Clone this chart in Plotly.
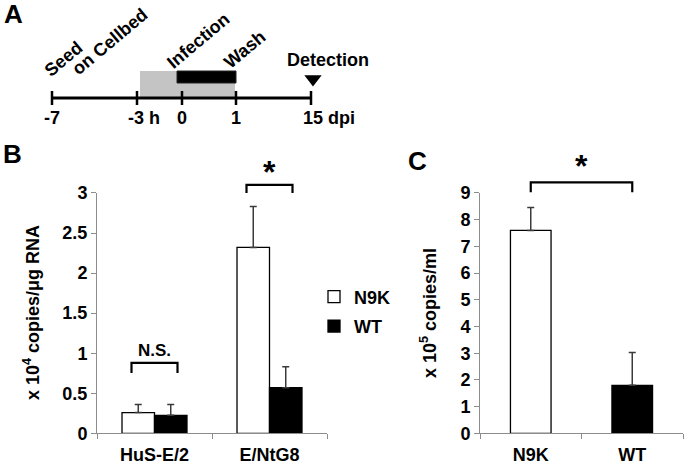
import plotly.graph_objects as go

# ---- panel A: experiment timeline (schematic positions, not to scale)
tl_labels = ["-7", "-3 h", "0", "1", "15 dpi"]
tl_pos = [0.0, 1.7, 2.6, 3.68, 5.18]
pre_span = [1.76, 3.66]   # grey box: cells on Cellbed before infection
inf_span = [2.5, 3.68]    # black box: infection until wash
detect_pos = 5.22

# ---- panel B: intracellular RNA (x 10^4 copies/ug RNA)
cell_lines = ["HuS-E/2", "E/NtG8"]
b_n9k = [0.26, 2.32]
b_n9k_err = [0.10, 0.51]
b_wt = [0.225, 0.57]
b_wt_err = [0.135, 0.26]
b_ticks = [0, 0.5, 1, 1.5, 2, 2.5, 3]

# ---- panel C: released RNA (x 10^5 copies/ml)
c_cats = ["N9K", "WT"]
c_vals = [7.6, 1.8]
c_err = [0.86, 1.23]
c_ticks = [0, 1, 2, 3, 4, 5, 6, 7, 8, 9]

W, H = 685, 465
FONT = "Liberation Sans, Arial, Helvetica, sans-serif"
AX_GREY = "#8c8c8c"
ERR_GREY = "#3a3a3a"
BASE = dict(family=FONT, size=18, color="black")


def px(x):
    return x / W


def py(y):
    return 1 - y / H


def b(txt):
    return f"<b>{txt}</b>"


def bracket(xref, yref, x0, x1, top, leg):
    return dict(
        type="path", xref=xref, yref=yref,
        path=f"M{x0},{top - leg} L{x0},{top} L{x1},{top} L{x1},{top - leg}",
        line=dict(color="black", width=2.2),
    )


fig = go.Figure()

# timeline
fig.add_trace(go.Scatter(
    x=[tl_pos[0], tl_pos[-1]], y=[0, 0], mode="lines",
    line=dict(color="black", width=2.8), xaxis="x3", yaxis="y3", showlegend=False,
))
fig.add_trace(go.Scatter(
    x=tl_pos, y=[0] * len(tl_pos), mode="markers",
    marker=dict(symbol="line-ns", size=10, line=dict(color="black", width=2.5)),
    xaxis="x3", yaxis="y3", showlegend=False,
))
fig.add_trace(go.Scatter(
    x=[detect_pos], y=[1.9], mode="markers",
    marker=dict(symbol="triangle-down", size=15, color="black"),
    xaxis="x3", yaxis="y3", showlegend=False,
))

# panel B bars
fig.add_trace(go.Bar(
    x=[b(c) for c in cell_lines], y=b_n9k, name=b("N9K"), legendgroup="n9k",
    marker=dict(color="white", line=dict(color="black", width=1.3)),
    error_y=dict(type="data", symmetric=False, array=b_n9k_err, arrayminus=[0, 0],
                 color=ERR_GREY, thickness=1.5, width=3.5),
    xaxis="x", yaxis="y",
))
fig.add_trace(go.Bar(
    x=[b(c) for c in cell_lines], y=b_wt, name=b("WT"), legendgroup="wt",
    marker=dict(color="black", line=dict(color="black", width=1.3)),
    error_y=dict(type="data", symmetric=False, array=b_wt_err, arrayminus=[0, 0],
                 color=ERR_GREY, thickness=1.5, width=3.5),
    xaxis="x", yaxis="y",
))

# panel C bars
fig.add_trace(go.Bar(
    x=[b(c) for c in c_cats], y=c_vals, width=0.4, showlegend=False,
    marker=dict(color=["white", "black"], line=dict(color="black", width=1.3)),
    error_y=dict(type="data", symmetric=False, array=c_err, arrayminus=[0, 0],
                 color=ERR_GREY, thickness=1.5, width=3.5),
    xaxis="x2", yaxis="y2",
))

cat_axis = dict(
    type="category", range=[-0.5, 1.5], showline=True, linecolor=AX_GREY, linewidth=1,
    ticks="outside", tickson="boundaries", ticklen=5, tickcolor=AX_GREY,
    showgrid=False, zeroline=False, fixedrange=True, tickfont=BASE, ticklabelstandoff=5,
    automargin=False,
)
val_axis = dict(
    showline=True, linecolor=AX_GREY, linewidth=1, ticks="outside", ticklen=5,
    tickcolor=AX_GREY, showgrid=False, zeroline=False, fixedrange=True, tickfont=BASE,
    tickmode="array", automargin=False,
)
hidden_axis = dict(visible=False, fixedrange=True, automargin=False)
y_dom = [0.068, 0.585]

shapes = [
    dict(type="rect", xref="x3", yref="y3", x0=pre_span[0], x1=pre_span[1], y0=0, y1=2.7,
         fillcolor="#c4c4c4", line=dict(width=0), layer="below"),
    dict(type="rect", xref="x3", yref="y3", x0=inf_span[0], x1=inf_span[1], y0=1.5, y1=2.7,
         fillcolor="black", line=dict(color="#222", width=1), layer="below"),
    bracket("x", "y domain", -0.2, 0.2, 0.88 / 3, 0.125 / 3),
    bracket("x", "y domain", 0.8, 1.2, 3.1 / 3, 0.1 / 3),
    bracket("x2", "y2 domain", 0, 1, 9.4 / 9, 0.37 / 9),
]

ann = []
# panel letters
for letter, (lx, ly) in {"A": (13, 14), "B": (12, 154), "C": (417, 161)}.items():
    ann.append(dict(text=b(letter), x=px(lx), y=py(ly), xref="paper", yref="paper",
                    xanchor="center", yanchor="middle", showarrow=False,
                    font=dict(size=26)))

# timeline labels below the axis
for lab, pos in zip(tl_labels, tl_pos):
    if " " in lab:
        ann.append(dict(text=b(lab), x=pos, y=-2.0, xref="x3", yref="y3", showarrow=False,
                        xanchor="left", yanchor="middle",
                        xshift=-11 if lab.startswith("-") else -10))
    else:
        ann.append(dict(text=b(lab), x=pos, y=-2.0, xref="x3", yref="y3", showarrow=False,
                        xanchor="center", yanchor="middle"))

# rotated step labels
for txt, (tx, ty) in {"Seed": (0.23, 3.9), "on Cellbed": (1.15, 5.6),
                      "Infection": (2.92, 5.7), "Wash": (3.84, 4.85)}.items():
    ann.append(dict(text=b(txt), x=tx, y=ty, xref="x3", yref="y3", showarrow=False,
                    xanchor="center", yanchor="middle", textangle=-40))
ann.append(dict(text=b("Detection"), x=5.52, y=3.8, xref="x3", yref="y3", showarrow=False,
                xanchor="center", yanchor="middle"))

# significance marks
ann.append(dict(text=b("N.S."), x=0, y=1.03 / 3, xref="x", yref="y domain",
                xanchor="center", yanchor="middle", showarrow=False, font=dict(size=17)))
ann.append(dict(text=b("*"), x=1, y=1.088, xref="x", yref="y domain",
                xanchor="center", yanchor="middle", showarrow=False, font=dict(size=32)))
ann.append(dict(text=b("*"), x=0.5, y=1.112, xref="x2", yref="y2 domain",
                xanchor="center", yanchor="middle", showarrow=False, font=dict(size=32)))

# y-axis titles
ann.append(dict(text=b("x 10<sup>4</sup> copies/μg RNA"), x=px(31), y=py(313),
                xref="paper", yref="paper", xanchor="center", yanchor="middle",
                showarrow=False, textangle=-90))
ann.append(dict(text=b("x 10<sup>5</sup> copies/ml"), x=px(428), y=py(313),
                xref="paper", yref="paper", xanchor="center", yanchor="middle",
                showarrow=False, textangle=-90))

fig.update_layout(
    template="none",
    width=W, height=H, autosize=False,
    margin=dict(l=0, r=0, t=0, b=0, pad=0),
    paper_bgcolor="white", plot_bgcolor="white",
    font=BASE,
    barmode="group", bargap=0.435, bargroupgap=0,
    xaxis=dict(cat_axis, domain=[px(97), px(327)], anchor="y"),
    yaxis=dict(val_axis, domain=y_dom, range=[0, 3], anchor="x",
               tickvals=b_ticks, ticktext=[b(f"{t:g}") for t in b_ticks]),
    xaxis2=dict(cat_axis, domain=[px(480), px(683)], anchor="y2"),
    yaxis2=dict(val_axis, domain=y_dom, range=[0, 9], anchor="x2",
                tickvals=c_ticks, ticktext=[b(f"{t:g}") for t in c_ticks]),
    xaxis3=dict(hidden_axis, domain=[0, 1], range=[-52 / 50, (W - 52) / 50]),
    yaxis3=dict(hidden_axis, domain=[0.7, 1.0], range=[-4.15, 9.8], anchor="x3"),
    legend=dict(x=px(314), y=py(311.5), xanchor="left", yanchor="middle",
                bgcolor="rgba(0,0,0,0)", font=BASE, itemwidth=30, tracegroupgap=3),
    shapes=shapes,
    annotations=ann,
)

fig.write_html("out.html", config={"displayModeBar": False},
               post_script="document.body.style.margin='0px';")
